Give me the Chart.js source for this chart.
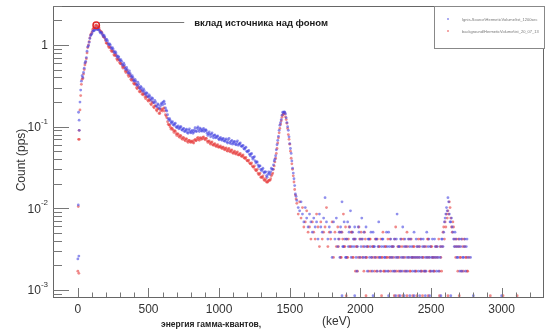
<!DOCTYPE html>
<html>
<head>
<meta charset="utf-8">
<script src="https://cdn.jsdelivr.net/npm/chart.js@4"></script>
<style>
  body { margin: 0; background: #fff; }
  #wrap { width: 548px; height: 336px; position: relative; }
</style>
</head>
<body>
<div id="wrap"><canvas id="spectrum"></canvas></div>
<script>
// energy bins of the main part of the spectrum (keV)
const mainKeV = [
    0, 10, 20, 30, 40, 50, 60, 70, 80, 90, 100, 110, 120, 130, 140, 150, 160, 170, 180, 190,
    200, 210, 220, 230, 240, 250, 260, 270, 280, 290, 300, 310, 320, 330, 340, 350, 360, 370, 380, 390,
    400, 410, 420, 430, 440, 450, 460, 470, 480, 490, 500, 510, 520, 530, 540, 550, 560, 570, 580, 590,
    600, 610, 620, 630, 640, 650, 660, 670, 680, 690, 700, 710, 720, 730, 740, 750, 760, 770, 780, 790,
    800, 810, 820, 830, 840, 850, 860, 870, 880, 890, 900, 910, 920, 930, 940, 950, 960, 970, 980, 990,
    1000, 1010, 1020, 1030, 1040, 1050, 1060, 1070, 1080, 1090, 1100, 1110, 1120, 1130, 1140, 1150, 1160, 1170, 1180, 1190,
    1200, 1210, 1220, 1230, 1240, 1250, 1260, 1270, 1280, 1290, 1300, 1310, 1320, 1330, 1340, 1350, 1360, 1370, 1380, 1390,
    1400, 1410, 1420, 1430, 1440, 1450, 1460, 1470, 1480, 1490, 1500, 1510, 1520, 1530, 1540, 1550
]

// count rate, source measurement (pps)
const sourceMain = [
    0.0024, 0.09, 0.28, 0.42, 0.46, 0.60, 0.70, 0.95, 1.08, 1.30, 1.38, 1.50, 1.53, 1.60, 1.54, 1.52, 1.40, 1.40, 1.27, 1.26,
    1.13, 1.12, 1.00, 1.00, 0.90, 0.89, 0.80, 0.80, 0.70, 0.71, 0.64, 0.63, 0.56, 0.57, 0.50, 0.50, 0.45, 0.45, 0.40, 0.40,
    0.36, 0.36, 0.32, 0.33, 0.29, 0.30, 0.27, 0.275, 0.245, 0.255, 0.23, 0.235, 0.21, 0.22, 0.195, 0.20, 0.175, 0.185, 0.165, 0.19,
    0.185, 0.205, 0.17, 0.155, 0.125, 0.125, 0.11, 0.115, 0.104, 0.11, 0.097, 0.102, 0.096, 0.10, 0.09, 0.095, 0.088, 0.093, 0.083, 0.094,
    0.084, 0.09, 0.086, 0.097, 0.087, 0.099, 0.087, 0.093, 0.088, 0.095, 0.09, 0.089, 0.078, 0.086, 0.075, 0.084, 0.073, 0.079, 0.074, 0.077,
    0.069, 0.074, 0.068, 0.072, 0.066, 0.071, 0.063, 0.072, 0.062, 0.068, 0.063, 0.066, 0.06, 0.067, 0.061, 0.063, 0.057, 0.059, 0.053, 0.056,
    0.049, 0.051, 0.044, 0.047, 0.04, 0.043, 0.036, 0.037, 0.032, 0.033, 0.029, 0.031, 0.027, 0.028, 0.024, 0.028, 0.026, 0.031, 0.03, 0.038,
    0.044, 0.06, 0.076, 0.104, 0.122, 0.15, 0.152, 0.143, 0.112, 0.09, 0.062, 0.047, 0.031, 0.023, 0.015, 0.0125
]

// count rate, background measurement (pps)
const backgroundMain = [
    0.0017, 0.07, 0.24, 0.38, 0.44, 0.57, 0.68, 0.93, 1.10, 1.33, 1.44, 1.60, 1.66, 1.76, 1.68, 1.62, 1.47, 1.42, 1.27, 1.22,
    1.06, 1.04, 0.93, 0.93, 0.83, 0.83, 0.74, 0.74, 0.65, 0.66, 0.59, 0.58, 0.52, 0.53, 0.46, 0.47, 0.41, 0.42, 0.37, 0.37,
    0.33, 0.33, 0.29, 0.30, 0.265, 0.27, 0.245, 0.25, 0.22, 0.23, 0.205, 0.21, 0.185, 0.195, 0.17, 0.18, 0.155, 0.165, 0.145, 0.165,
    0.155, 0.17, 0.14, 0.128, 0.107, 0.104, 0.093, 0.094, 0.085, 0.088, 0.078, 0.081, 0.074, 0.077, 0.07, 0.073, 0.067, 0.071, 0.064, 0.068,
    0.064, 0.067, 0.063, 0.07, 0.068, 0.074, 0.068, 0.073, 0.071, 0.075, 0.069, 0.072, 0.064, 0.067, 0.061, 0.065, 0.059, 0.062, 0.057, 0.06,
    0.056, 0.058, 0.054, 0.056, 0.052, 0.055, 0.05, 0.054, 0.049, 0.052, 0.047, 0.05, 0.046, 0.049, 0.045, 0.047, 0.043, 0.045, 0.041, 0.042,
    0.038, 0.039, 0.035, 0.036, 0.032, 0.033, 0.029, 0.03, 0.026, 0.027, 0.024, 0.025, 0.022, 0.023, 0.021, 0.022, 0.022, 0.025, 0.027, 0.033,
    0.041, 0.054, 0.073, 0.095, 0.118, 0.138, 0.148, 0.132, 0.11, 0.08, 0.061, 0.041, 0.03, 0.021, 0.0145, 0.0115
]

// bins in between (keV)
const mainKeVB = [
    15, 25, 35, 45, 55, 65, 75, 85, 95, 105, 115, 125, 135, 145, 155, 165, 175, 185, 195,
    205, 215, 225, 235, 245, 255, 265, 275, 285, 295, 305, 315, 325, 335, 345, 355, 365, 375, 385, 395,
    405, 415, 425, 435, 445, 455, 465, 475, 485, 495, 505, 515, 525, 535, 545, 555, 565, 575, 585, 595,
    605, 615, 625, 635, 645, 655, 665, 675, 685, 695, 705, 715, 725, 735, 745, 755, 765, 775, 785, 795,
    805, 815, 825, 835, 845, 855, 865, 875, 885, 895, 905, 915, 925, 935, 945, 955, 965, 975, 985, 995,
    1005, 1015, 1025, 1035, 1045, 1055, 1065, 1075, 1085, 1095, 1105, 1115, 1125, 1135, 1145, 1155, 1165, 1175, 1185, 1195,
    1205, 1215, 1225, 1235, 1245, 1255, 1265, 1275, 1285, 1295, 1305, 1315, 1325, 1335, 1345, 1355, 1365, 1375, 1385, 1395,
    1405, 1415, 1425, 1435, 1445, 1455, 1465, 1475, 1485, 1495, 1505, 1515, 1525, 1535, 1545
]

const sourceMainB = [
    0.20, 0.36, 0.40, 0.52, 0.63, 0.84, 0.98, 1.20, 1.33, 1.47, 1.49, 1.60, 1.55, 1.57, 1.45, 1.44, 1.33, 1.32, 1.19,
    1.17, 1.04, 1.03, 0.93, 0.93, 0.83, 0.83, 0.74, 0.73, 0.66, 0.66, 0.58, 0.60, 0.52, 0.53, 0.46, 0.48, 0.42, 0.42, 0.37,
    0.38, 0.33, 0.35, 0.30, 0.31, 0.28, 0.29, 0.255, 0.26, 0.235, 0.245, 0.22, 0.225, 0.20, 0.21, 0.18, 0.19, 0.17, 0.18, 0.195,
    0.20, 0.19, 0.16, 0.14, 0.12, 0.118, 0.113, 0.106, 0.108, 0.10, 0.099, 0.094, 0.099, 0.092, 0.094, 0.087, 0.091, 0.085, 0.09, 0.086,
    0.088, 0.083, 0.091, 0.088, 0.095, 0.091, 0.096, 0.089, 0.092, 0.087, 0.092, 0.083, 0.082, 0.08, 0.081, 0.077, 0.078, 0.073, 0.076, 0.071,
    0.072, 0.07, 0.071, 0.067, 0.069, 0.065, 0.069, 0.064, 0.066, 0.061, 0.065, 0.061, 0.064, 0.059, 0.062, 0.058, 0.058, 0.054, 0.055, 0.05,
    0.05, 0.046, 0.046, 0.042, 0.042, 0.038, 0.037, 0.034, 0.033, 0.03, 0.03, 0.028, 0.028, 0.025, 0.026, 0.027, 0.028, 0.03, 0.034, 0.04,
    0.052, 0.068, 0.09, 0.112, 0.138, 0.148, 0.15, 0.128, 0.10, 0.075, 0.054, 0.038, 0.027, 0.019, 0.014
]

const backgroundMainB = [
    0.16, 0.33, 0.39, 0.50, 0.61, 0.80, 1.00, 1.22, 1.37, 1.54, 1.60, 1.73, 1.72, 1.68, 1.53, 1.46, 1.34, 1.25, 1.14,
    1.05, 0.97, 0.95, 0.86, 0.85, 0.76, 0.77, 0.68, 0.68, 0.61, 0.60, 0.54, 0.55, 0.48, 0.49, 0.43, 0.44, 0.38, 0.39, 0.34,
    0.34, 0.30, 0.31, 0.27, 0.28, 0.25, 0.255, 0.23, 0.235, 0.21, 0.215, 0.19, 0.20, 0.175, 0.18, 0.16, 0.165, 0.145, 0.155, 0.16,
    0.165, 0.155, 0.135, 0.115, 0.105, 0.098, 0.096, 0.09, 0.089, 0.082, 0.082, 0.076, 0.078, 0.072, 0.074, 0.069, 0.071, 0.066, 0.068, 0.065,
    0.066, 0.064, 0.068, 0.067, 0.072, 0.07, 0.073, 0.07, 0.074, 0.071, 0.072, 0.067, 0.066, 0.063, 0.064, 0.06, 0.061, 0.058, 0.059, 0.056,
    0.057, 0.055, 0.056, 0.053, 0.054, 0.051, 0.053, 0.05, 0.051, 0.048, 0.049, 0.047, 0.048, 0.045, 0.046, 0.044, 0.044, 0.042, 0.041, 0.039,
    0.038, 0.036, 0.035, 0.033, 0.032, 0.03, 0.029, 0.027, 0.026, 0.024, 0.024, 0.023, 0.022, 0.021, 0.021, 0.022, 0.023, 0.026, 0.03, 0.037,
    0.047, 0.063, 0.084, 0.107, 0.13, 0.142, 0.145, 0.122, 0.095, 0.07, 0.05, 0.035, 0.025, 0.017, 0.013
]

// detector threshold region, a few scattered bins
const thresholdKeV = [3, 5, 7, 9]
const thresholdSource = [0.011, 0.15, 0.0026, 0.12]
const thresholdBackground = [0.0105, 0.07, 0.0016, 0.09]

// high energy tail, single counts per bin (null = empty bin)
const tailKeV = [
    1560, 1570, 1580, 1590, 1600, 1610, 1620, 1630, 1640, 1650, 1660, 1670, 1680, 1690, 1700, 1710, 1720, 1730, 1740, 1750,
    1760, 1770, 1780, 1790, 1800, 1810, 1820, 1830, 1840, 1850, 1860, 1870, 1880, 1890, 1900, 1910, 1920, 1930, 1940, 1950,
    1960, 1970, 1980, 1990, 2000, 2010, 2020, 2030, 2040, 2050, 2060, 2070, 2080, 2090, 2100, 2110, 2120, 2130, 2140, 2150,
    2160, 2170, 2180, 2190, 2200, 2210, 2220, 2230, 2240, 2250, 2260, 2270, 2280, 2290, 2300, 2310, 2320, 2330, 2340, 2350,
    2360, 2370, 2380, 2390, 2400, 2410, 2420, 2430, 2440, 2450, 2460, 2470, 2480, 2490, 2500, 2510, 2520, 2530, 2540, 2550,
    2560, 2570, 2580, 2590, 2600, 2610, 2620, 2630, 2640, 2650, 2660, 2670, 2680, 2690, 2700, 2710, 2720, 2730, 2740, 2750,
    2760, 2770, 2780
]

const sourceTail = [
    0.0102, 0.0093, 0.012, 0.0085, 0.0068, 0.0102, 0.0076, 0.0059, 0.0085, 0.0068, 0.0051, 0.0076, 0.0059, 0.0068, 0.0042, 0.0085, 0.0059, 0.0051, 0.0076, 0.0135,
    0.0068, 0.0042, 0.0059, 0.0051, 0.0025, 0.0068, 0.0042, 0.0076, 0.0034, 0.0051, 0.0059, 0.012, 0.0034, 0.0042, 0.0025, 0.0068, 0.0051, 0.0093, 0.0034, 0.0042,
    0.0059, 0.0025, 0.0034, 0.0051, 0.0042, 0.0076, 0.0025, 0.0034, 0.0059, 0.0017, 0.0042, 0.0034, 0.0025, 0.0051, 0.0034, 0.0042, 0.0017, 0.0068, 0.0025, 0.0034,
    0.0042, 0.0025, 0.0017, 0.0034, 0.0051, 0.0025, 0.0034, 0.0017, 0.0042, 0.0025, 0.0085, 0.0034, 0.0017, 0.0025, 0.0059, 0.0034, 0.0017, 0.0025, 0.0042, 0.0034,
    0.0025, 0.0017, 0.0051, 0.0025, 0.0034, 0.0017, 0.0025, 0.0042, 0.0034, 0.0017, 0.0025, 0.0051, 0.0034, 0.0025, 0.0017, 0.0042, 0.0025, 0.0034, 0.0017, 0.0025,
    null, 0.0034, 0.0042, 0.0051, 0.0076, 0.0102, 0.0135, 0.0085, 0.0068, 0.0059, 0.0042, 0.0051, 0.0034, 0.0025, 0.0042, 0.0034, 0.0017, 0.0025, 0.0042, 0.0034,
    0.0025, null, 0.0025
]

const backgroundTail = [
    0.0085, 0.012, 0.0076, 0.0102, 0.0059, 0.0068, 0.0093, 0.0051, 0.0059, 0.0042, 0.0068, 0.0051, 0.0042, 0.0085, 0.0059, 0.0034, 0.0068, 0.0042, 0.0051, 0.0059,
    0.0102, 0.0034, 0.0051, 0.0042, 0.0068, 0.0025, 0.0051, 0.0034, 0.0059, 0.0042, 0.0025, 0.0051, 0.0085, 0.0034, 0.0042, 0.0025, 0.0059, 0.0034, 0.0051, 0.0025,
    0.0042, 0.0034, 0.0017, 0.0059, 0.0025, 0.0042, 0.0034, 0.0051, 0.0025, 0.0034, 0.0017, 0.0042, 0.0025, 0.0034, 0.0017, 0.0025, 0.0042, 0.0034, 0.0017, 0.0025,
    0.0051, 0.0017, 0.0034, 0.0025, 0.0017, 0.0042, 0.0025, 0.0034, 0.0017, 0.0059, 0.0025, 0.0017, 0.0034, 0.0042, 0.0025, 0.0017, 0.0034, 0.0051, 0.0025, 0.0017,
    0.0042, 0.0025, 0.0034, 0.0017, 0.0025, 0.0042, 0.0034, 0.0017, 0.0025, 0.0034, 0.0017, 0.0025, 0.0042, 0.0017, 0.0034, 0.0025, 0.0017, 0.0025, 0.0034, null,
    0.0017, 0.0025, 0.0034, 0.0059, 0.0068, 0.0085, 0.0093, 0.012, 0.0076, 0.0051, 0.0059, 0.0034, 0.0042, 0.0017, 0.0034, 0.0025, 0.0042, 0.0017, 0.0034, 0.0025,
    0.0017, 0.0025, null
]

// tail bins in between (keV)
const tailKeVB = [
    1845, 1855, 1865, 1875, 1885, 1895, 1905, 1915, 1925, 1935, 1945, 1955, 1965, 1975, 1985, 1995, 2005, 2015, 2025, 2035,
    2045, 2055, 2065, 2075, 2085, 2095, 2105, 2115, 2125, 2135, 2145, 2155, 2165, 2175, 2185, 2195, 2205, 2215, 2225, 2235,
    2245, 2255, 2265, 2275, 2285, 2295, 2305, 2315, 2325, 2335, 2345, 2355, 2365, 2375, 2385, 2395, 2405, 2415, 2425, 2435,
    2445, 2455, 2465, 2475, 2485, 2495, 2505, 2515, 2525, 2535, 2545, 2555, 2565, 2575, 2585, 2595, 2605, 2615, 2625, 2635,
    2645, 2655, 2665, 2675, 2685, 2695, 2705, 2715, 2725, 2735, 2745, 2755
]

const sourceTailB = [
    0.0042, 0.0025, 0.0051, 0.0034, 0.0068, 0.0025, 0.0042, 0.0034, 0.0059, 0.0025, 0.0051, 0.0034, 0.0042, 0.0017, 0.0059, 0.0025, 0.0034, 0.0042, 0.0051, 0.0025,
    0.0034, 0.0042, 0.0025, 0.0051, 0.0017, 0.0034, 0.0025, 0.0042, 0.0034, 0.0025, 0.0017, 0.0042, 0.0034, 0.0025, 0.0051, 0.0017, 0.0034, 0.0042, 0.0025, 0.0034,
    0.0017, 0.0042, 0.0025, 0.0034, 0.0042, 0.0017, 0.0025, 0.0042, 0.0034, 0.0017, 0.0025, 0.0042, 0.0034, 0.0025, 0.0017, 0.0042, 0.0025, 0.0034, 0.0017, 0.0025,
    0.0042, 0.0034, 0.0017, 0.0025, 0.0042, 0.0034, 0.0025, 0.0017, 0.0042, 0.0025, 0.0034, 0.0017, 0.0025, 0.0042, 0.0034, 0.0068, 0.0085, 0.0093, 0.012, 0.0068,
    0.0076, 0.0051, 0.0034, 0.0042, 0.0025, 0.0034, 0.0017, 0.0042, 0.0025, 0.0034, 0.0017, 0.0042
]

const backgroundTailB = [
    0.0034, 0.0051, 0.0025, 0.0042, 0.0034, 0.0059, 0.0025, 0.0042, 0.0034, 0.0051, 0.0025, 0.0042, 0.0017, 0.0034, 0.0025, 0.0042, 0.0051, 0.0025, 0.0017, 0.0042,
    0.0025, 0.0034, 0.0042, 0.0017, 0.0034, 0.0025, 0.0042, 0.0017, 0.0025, 0.0034, 0.0042, 0.0025, 0.0017, 0.0034, 0.0025, 0.0042, 0.0025, 0.0017, 0.0034, 0.0025,
    0.0042, 0.0017, 0.0034, 0.0025, 0.0017, 0.0034, 0.0042, 0.0025, 0.0017, 0.0034, 0.0042, 0.0017, 0.0025, 0.0034, 0.0025, 0.0017, 0.0034, 0.0025, 0.0042, 0.0017,
    0.0025, 0.0017, 0.0034, 0.0042, 0.0025, 0.0017, 0.0034, 0.0025, 0.0017, 0.0034, 0.0025, 0.0042, 0.0034, 0.0017, 0.0051, 0.0042, 0.0059, 0.0076, 0.0085, 0.0102,
    0.0059, 0.0068, 0.0042, 0.0025, 0.0034, 0.0042, 0.0025, 0.0017, 0.0034, 0.0042, 0.0025, 0.0017
]

// one-count bins sitting on the bottom of the axis
const floorRate = 0.00085
const sourceFloorKeV = [1870, 1960, 2090, 2200, 2250, 2280, 2310, 2350, 2380, 2420, 2460, 2490, 2570, 2640, 2800, 3000]
const backgroundFloorKeV = [1900, 2040, 2150, 2240, 2270, 2300, 2330, 2370, 2400, 2440, 2480, 2560, 2620, 2700, 2920, 3010, 3110]

const seriesNames = ["Ignis-Source\\HermeticVolume\\tst_1200sec", "background\\HermeticVolume\\tst_20_07_13"]
const seriesColors = ["rgba(70, 70, 225, 0.6)", "rgba(230, 60, 60, 0.6)"]

const xTicks = [0, 500, 1000, 1500, 2000, 2500, 3000]
const yDecades = [1, 0.1, 0.01, 0.001]
const yDecadeLabels = [["1", ""], ["10", "-1"], ["10", "-2"], ["10", "-3"]]

const peakKeV = 130
const peakRate = 1.74
const annotationText = "вклад источника над фоном"
const xTitle = "энергия гамма-квантов,"
const xUnit = "(keV)"
const yTitle = "Count (pps)"

function buildPoints(keV, rates) {
    const pts = []
    for (let i = 0; i < keV.length; i++) {
        if (rates[i] !== null) pts.push({ x: keV[i], y: rates[i] })
    }
    return pts
}

const sourcePoints = buildPoints(mainKeV, sourceMain)
    .concat(buildPoints(mainKeVB, sourceMainB))
    .concat(buildPoints(thresholdKeV, thresholdSource))
    .concat(buildPoints(tailKeV, sourceTail))
    .concat(buildPoints(tailKeVB, sourceTailB))
    .concat(sourceFloorKeV.map(e => ({ x: e, y: floorRate })))

const backgroundPoints = buildPoints(mainKeV, backgroundMain)
    .concat(buildPoints(mainKeVB, backgroundMainB))
    .concat(buildPoints(thresholdKeV, thresholdBackground))
    .concat(buildPoints(tailKeV, backgroundTail))
    .concat(buildPoints(tailKeVB, backgroundTailB))
    .concat(backgroundFloorKeV.map(e => ({ x: e, y: floorRate })))

// ROOT-like frame, ticks, labels and annotation
const rootFrame = {
    id: "rootFrame",
    afterDraw(chart) {
        const ctx = chart.ctx
        const a = chart.chartArea
        const xs = chart.scales.x
        const ys = chart.scales.y
        ctx.save()

        // frame
        ctx.strokeStyle = "#666"
        ctx.lineWidth = 1
        ctx.strokeRect(a.left + 0.5, a.top + 0.5, a.right - a.left - 1, a.bottom - a.top)

        // x ticks
        ctx.strokeStyle = "#777"
        ctx.beginPath()
        for (let v = 0; v <= 3200; v += 100) {
            const px = Math.round(xs.getPixelForValue(v)) + 0.5
            const len = v % 500 === 0 ? 9 : 4.5
            ctx.moveTo(px, a.bottom)
            ctx.lineTo(px, a.bottom - len)
        }
        // y ticks
        for (const d of [0.0001, 0.001, 0.01, 0.1, 1]) {
            for (let m = 1; m <= 9; m++) {
                const v = d * m
                if (v < ys.min || v > ys.max) continue
                const py = Math.round(ys.getPixelForValue(v)) + 0.5
                const len = m === 1 ? 16 : 9
                ctx.moveTo(a.left, py)
                ctx.lineTo(a.left + len, py)
            }
        }
        ctx.stroke()

        // tick labels
        ctx.fillStyle = "#333"
        ctx.font = "12px 'Liberation Sans', Arial, sans-serif"
        ctx.textAlign = "center"
        ctx.textBaseline = "middle"
        xTicks.forEach(v => ctx.fillText(String(v), xs.getPixelForValue(v), a.bottom + 13))

        yDecades.forEach((v, i) => {
            const py = ys.getPixelForValue(v)
            const [base, exp] = yDecadeLabels[i]
            ctx.font = "8px 'Liberation Sans', Arial, sans-serif"
            const ew = exp ? ctx.measureText(exp).width : 0
            ctx.textAlign = "right"
            ctx.fillText(exp, a.left - 5, py - 5)
            ctx.font = "12px 'Liberation Sans', Arial, sans-serif"
            ctx.fillText(base, a.left - 5 - ew, py + 1)
        })

        // axis titles
        ctx.save()
        ctx.translate(22, 160)
        ctx.rotate(-Math.PI / 2)
        ctx.textAlign = "center"
        ctx.font = "12px 'Liberation Sans', Arial, sans-serif"
        ctx.fillText(yTitle, 0, 0)
        ctx.restore()

        ctx.fillStyle = "#222"
        ctx.font = "bold 8.5px 'Liberation Sans', Arial, sans-serif"
        ctx.textAlign = "left"
        ctx.fillText(xTitle, 161, 325)
        ctx.fillStyle = "#333"
        ctx.font = "12px 'Liberation Sans', Arial, sans-serif"
        ctx.fillText(xUnit, 322, 322)

        // annotation of the source peak
        const pkx = xs.getPixelForValue(peakKeV)
        const pky = ys.getPixelForValue(peakRate)
        ctx.strokeStyle = "#e02424"
        ctx.lineWidth = 1.5
        ctx.beginPath()
        ctx.arc(pkx, pky, 3.2, 0, Math.PI * 2)
        ctx.stroke()
        ctx.strokeStyle = "#777"
        ctx.lineWidth = 1
        ctx.beginPath()
        ctx.moveTo(pkx + 3, Math.round(pky) - 2.5)
        ctx.lineTo(pkx + 88, Math.round(pky) - 2.5)
        ctx.stroke()
        ctx.fillStyle = "#1a1a1a"
        ctx.font = "bold 9.5px 'Liberation Sans', Arial, sans-serif"
        ctx.textAlign = "left"
        ctx.fillText(annotationText, pkx + 98, pky - 2)

        // legend box
        const lx = 434, ly = a.top, lw = a.right - lx, lh = 42
        ctx.fillStyle = "#fff"
        ctx.fillRect(lx, ly, lw, lh)
        ctx.strokeStyle = "#888"
        ctx.strokeRect(lx + 0.5, ly + 0.5, lw, lh)
        ctx.font = "4px 'Liberation Sans', Arial, sans-serif"
        seriesNames.forEach((name, i) => {
            const ey = ly + 13 + i * 12
            ctx.fillStyle = seriesColors[i]
            ctx.beginPath()
            ctx.arc(lx + 14, ey, 1, 0, Math.PI * 2)
            ctx.fill()
            ctx.fillStyle = "#777"
            ctx.fillText(name, lx + 28, ey + 1)
        })
        ctx.restore()
    }
}

new Chart(document.getElementById("spectrum"), {
    type: "scatter",
    data: {
        datasets: [
            { label: seriesNames[0], data: sourcePoints, backgroundColor: seriesColors[0], borderWidth: 0, pointRadius: 1.4 },
            { label: seriesNames[1], data: backgroundPoints, backgroundColor: seriesColors[1], borderWidth: 0, pointRadius: 1.4 }
        ]
    },
    options: {
        responsive: true,
        maintainAspectRatio: false,
        animation: false,
        layout: { padding: { left: 53, top: 6, right: 0, bottom: 39 } },
        plugins: { legend: { display: false }, tooltip: { enabled: false } },
        scales: {
            x: { type: "linear", min: -176, max: 3300, display: false },
            y: { type: "logarithmic", min: 0.00082, max: 3.0, display: false }
        }
    },
    plugins: [rootFrame]
})
</script>
</body>
</html>
